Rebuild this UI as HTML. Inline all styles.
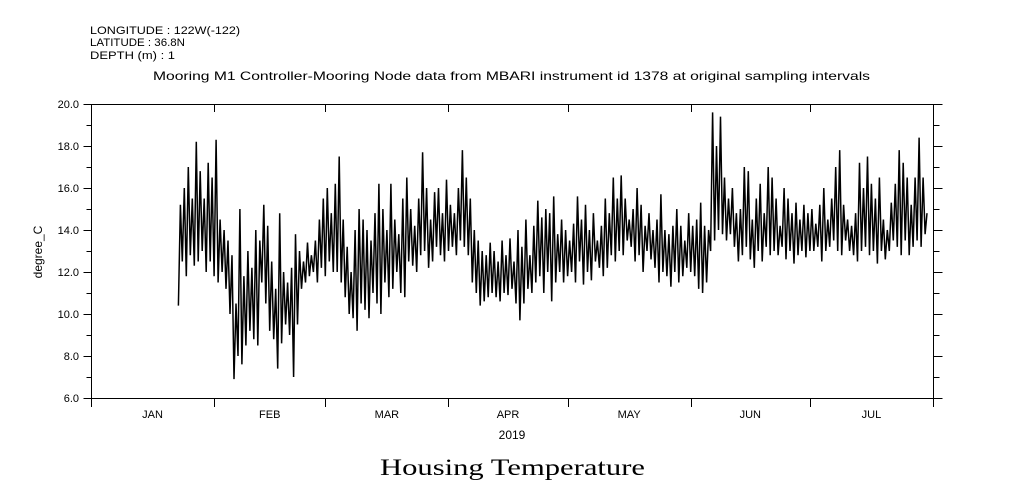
<!DOCTYPE html>
<html><head><meta charset="utf-8"><style>
body{margin:0;background:#fff;width:1009px;height:504px;overflow:hidden}
svg{display:block;font-family:"Liberation Sans",sans-serif}
</style></head><body>
<svg id="chart" width="1009" height="504" viewBox="0 0 1009 504">
<g font-size="11" fill="#000">
<text x="90" y="34" textLength="150" lengthAdjust="spacingAndGlyphs">LONGITUDE : 122W(-122)</text>
<text x="90" y="46" textLength="95" lengthAdjust="spacingAndGlyphs">LATITUDE : 36.8N</text>
<text x="90" y="59" textLength="85" lengthAdjust="spacingAndGlyphs">DEPTH (m) : 1</text>
</g>
<text x="153" y="80" font-size="12" textLength="717" lengthAdjust="spacingAndGlyphs">Mooring M1 Controller-Mooring Node data from MBARI instrument id 1378 at original sampling intervals</text>
<text transform="translate(42,252) rotate(-90)" font-size="12" text-anchor="middle">degree_C</text>
<text x="512" y="439" font-size="12" text-anchor="middle">2019</text>
<text x="380" y="475" font-size="23" textLength="265" lengthAdjust="spacingAndGlyphs" font-family="'Liberation Serif',serif">Housing Temperature</text>
<g id="axes"></g>
<path id="series" fill="none" stroke="#000" stroke-width="1.5"></path>
</svg>
<script>
const startDay = 22;
const highs = [15.2,16.0,17.0,15.5,18.2,16.8,15.5,17.2,16.5,18.3,
14.5,14.0,13.5,12.8,10.5,15.0,11.8,13.0,12.2,14.0,
13.5,15.2,14.2,12.5,11.2,14.8,12.0,11.5,12.2,13.8,
13.0,12.5,13.4,12.8,13.5,14.5,15.5,16.0,14.8,16.2,
17.5,14.5,13.2,12.0,14.0,15.0,14.5,14.0,13.5,14.8,
16.2,15.0,14.0,16.2,14.5,13.8,15.5,16.5,15.0,14.2,
15.5,17.7,16.0,14.5,15.8,16.0,14.8,16.4,15.2,14.8,
16.0,17.8,16.5,15.5,14.0,13.5,13.0,12.8,13.4,13.0,
12.5,13.5,12.8,13.6,12.5,14.0,13.2,14.5,12.8,14.2,
15.4,14.6,15.0,14.8,15.6,13.8,14.5,14.0,13.5,14.3,
15.6,14.5,15.2,14.0,14.8,13.5,14.2,15.5,14.8,16.5,
15.5,16.6,15.5,14.5,15.0,16.0,15.2,14.2,14.8,14.0,
14.5,15.7,14.0,13.8,14.2,15.0,14.2,13.5,14.8,14.2,
14.5,15.3,14.2,14.0,19.6,18.0,19.4,16.5,15.5,16.0,
14.8,15.0,17.0,16.8,14.5,15.5,16.2,14.8,17.0,16.5,
15.5,14.2,16.0,15.5,14.8,15.3,14.5,15.2,14.8,15.0,
14.3,15.2,16.0,14.5,15.5,17.0,17.8,15.2,14.5,14.2,
14.8,17.2,16.0,17.5,16.2,15.5,16.5,14.5,14.0,15.3,
16.2,17.8,17.2,16.5,15.2,16.5,18.4,16.5,14.8];
const lows = [10.4,12.5,11.8,12.8,12.3,12.5,13.0,12.0,12.5,11.8,
11.5,12.0,11.2,10.0,6.9,8.0,7.6,8.5,9.2,8.8,
8.5,11.5,10.5,9.2,8.8,7.4,8.6,9.5,9.0,7.0,
9.5,11.2,11.5,11.8,12.0,11.5,12.2,11.8,12.5,12.0,
12.0,11.5,10.8,10.0,9.8,9.2,10.5,10.2,9.8,11.0,
10.5,10.0,11.5,10.8,11.2,12.0,11.0,10.8,12.5,12.3,
12.0,12.8,13.0,12.2,12.5,13.2,12.8,12.5,13.0,13.2,
12.8,13.5,13.2,12.8,11.5,11.0,10.4,10.6,10.8,11.0,
10.8,10.6,11.0,10.9,11.2,10.5,9.7,10.5,11.2,11.0,
11.5,11.8,11.0,12.0,10.6,11.5,12.0,11.5,11.8,12.0,
11.5,12.5,11.4,12.0,11.6,12.5,12.2,11.8,12.2,12.8,
12.5,13.0,12.8,13.5,13.2,12.5,12.8,12.0,13.0,12.6,
12.2,11.5,12.0,11.8,11.3,12.0,11.5,11.8,12.2,12.0,
11.8,11.2,11.0,11.5,13.0,13.5,14.0,13.8,13.5,13.8,
13.2,12.5,12.8,13.2,12.6,12.2,13.0,12.5,13.2,12.8,
13.0,12.8,13.2,12.6,13.0,12.4,12.8,13.0,12.7,13.0,
13.0,13.2,12.5,13.0,13.2,13.5,13.0,12.8,13.5,13.0,
12.8,12.5,13.0,13.2,12.8,13.0,12.4,13.0,12.6,13.0,
13.5,13.2,12.8,13.5,12.8,13.2,13.5,13.2,13.8];
const yTickLabels = ["6.0","8.0","10.0","12.0","14.0","16.0","18.0","20.0"];
const monthLabels = ["JAN","FEB","MAR","APR","MAY","JUN","JUL"];
const monthStarts = [0,31,59,90,120,151,181,212];

const X0=91,X1=933,Y0=398,Y1=104,YMIN=6,YMAX=20,DMAX=212;
const xs=d=>X0+(d/DMAX)*(X1-X0);
const ys=v=>Y0-(v-YMIN)/(YMAX-YMIN)*(Y0-Y1);
const NS="http://www.w3.org/2000/svg";
const axes=document.getElementById('axes');
function ln(x1,y1,x2,y2,name){const l=document.createElementNS(NS,'line');
l.setAttribute('x1',x1);l.setAttribute('y1',y1);l.setAttribute('x2',x2);l.setAttribute('y2',y2);
l.setAttribute('stroke','#000');l.setAttribute('stroke-width','1');


axes.appendChild(l);return l;}
function tx(x,y,s,anchor,name){const t=document.createElementNS(NS,'text');
t.setAttribute('x',x);t.setAttribute('y',y);t.setAttribute('font-size','11');t.setAttribute('text-anchor',anchor);t.textContent=s;


axes.appendChild(t);}
const r=document.createElementNS(NS,'rect');
r.setAttribute('x',X0+0.5);r.setAttribute('y',Y1+0.5);r.setAttribute('width',X1-X0);r.setAttribute('height',Y0-Y1);
r.setAttribute('fill','none');r.setAttribute('stroke','#000');


axes.appendChild(r);
for(let v=YMIN;v<=YMAX;v++){const y=Math.round(ys(v))+0.5;const major=(v%2===0);
ln(X0+0.5-(major?8:5),y,X0+0.5,y,'y-tick');
ln(X1+0.5,y,X1+0.5+(major?9:6),y,'y-tick-right');}
yTickLabels.forEach(s=>{tx(X0-12,ys(parseFloat(s))+4,s,'end','y-tick-label');});
monthStarts.forEach(d=>{const x=Math.round(xs(d))+0.5;
ln(x,Y0+0.5,x,Y0+9,'x-tick');ln(x,Y1+0.5,x,Y1+8,'x-tick-top');});
monthLabels.forEach((s,i)=>{tx(xs((monthStarts[i]+monthStarts[i+1])/2),Y0+20,s,'middle','x-tick-label');});
let d='';
for(let i=0;i<highs.length;i++){const day=startDay+i;
d+=(i?'L':'M')+xs(day).toFixed(1)+','+ys(lows[i]).toFixed(1);
d+='L'+xs(day+0.5).toFixed(1)+','+ys(highs[i]).toFixed(1);}
document.getElementById('series').setAttribute('d',d);
</script>
</body></html>
